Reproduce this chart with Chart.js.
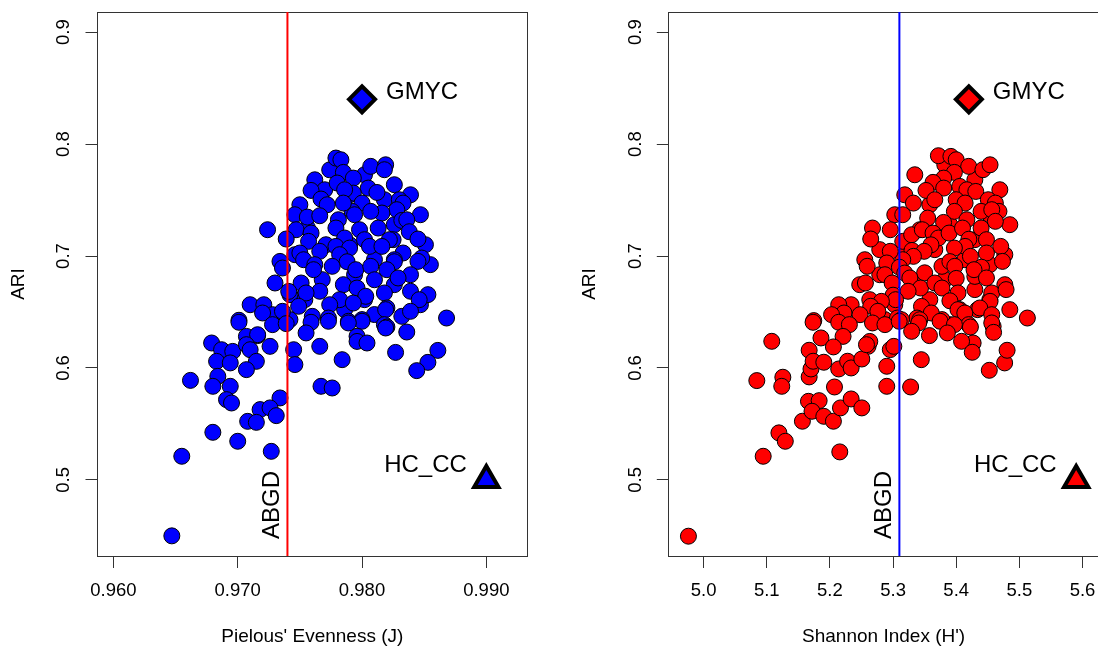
<!DOCTYPE html>
<html>
<head>
<meta charset="utf-8">
<script src="https://cdn.jsdelivr.net/npm/chart.js"></script>
<style>
  html, body { margin: 0; padding: 0; background: #fff; overflow: hidden; }
  #wrap { position: relative; width: 1098px; height: 648px; overflow: hidden; }
  #left { position: absolute; left: 0; top: 0; }
  #right { position: absolute; left: 549px; top: 0; }
</style>
</head>
<body>
<div id="wrap">
  <canvas id="left" width="549" height="648"></canvas>
  <canvas id="right" width="560" height="648"></canvas>
</div>
<script>
// Pielou's evenness (J) of each partition and its ARI
const evenness = [
  0.9762,0.9774,0.9802,0.9826,0.9839,0.9818,0.9790,0.9770,0.9750,0.9847,
  0.9781,0.9756,0.9826,0.9790,0.9851,0.9746,0.9810,0.9855,0.9794,0.9768,
  0.9826,0.9742,0.9802,0.9847,0.9754,0.9786,0.9810,0.9742,
  0.9779,0.9783,0.9807,0.9819,0.9818,0.9785,0.9793,0.9780,0.9759,0.9805,
  0.9812,0.9793,0.9786,0.9767,0.9772,0.9800,0.9830,0.9833,0.9828,0.9816,
  0.9792,0.9807,0.9785,0.9746,0.9756,0.9766,0.9794,0.9832,0.9836,0.9724,
  0.9779,0.9813,0.9798,0.9747,0.9759,0.9838,0.9786,0.9739,0.9845,0.9825,
  0.9822,0.9802,0.9757,0.9771,0.9806,0.9816,0.9779,0.9790,0.9766,0.9750,
  0.9782,0.9833,0.9848,0.9845,0.9826,0.9753,0.9734,0.9788,0.9826,0.9776,
  0.9795,0.9807,0.9820,0.9762,0.9736,0.9761,0.9839,0.9829,0.9810,0.9730,
  0.9751,0.9766,0.9741,0.9755,0.9785,0.9796,0.9803,0.9818,0.9839,0.9853,
  0.9846,0.9782,0.9793,0.9774,0.9820,0.9710,0.9721,0.9728,0.9720,0.9701,
  0.9736,0.9749,0.9760,0.9773,0.9789,0.9800,0.9819,0.9832,0.9839,0.9818,
  0.9868,0.9701,0.9728,0.9739,0.9759,0.9773,0.9800,0.9820,0.9716,0.9836,
  0.9819,0.9796,0.9789,0.9707,0.9716,0.9755,0.9679,0.9687,0.9696,0.9707,
  0.9710,0.9726,0.9745,0.9746,0.9683,0.9694,0.9715,0.9707,0.9662,0.9684,
  0.9680,0.9694,0.9691,0.9695,0.9734,0.9718,0.9726,0.9731,0.9708,0.9715,
  0.9680,0.9700,0.9727,0.9655,0.9647,0.9766,0.9784,0.9767,0.9776,0.9796,
  0.9804,0.9827,0.9861,0.9853,0.9844
];
const ariEven = [
  0.7681,0.7770,0.7726,0.7637,0.7547,0.7503,0.7547,0.7592,0.7458,0.7369,
  0.7324,0.7253,0.7280,0.7101,0.7101,0.7012,0.6967,0.6923,0.6833,0.6789,
  0.6744,0.6655,0.6610,0.6565,0.6610,0.6521,0.6477,0.6432,
  0.7875,0.7860,0.7801,0.7815,0.7771,0.7747,0.7696,0.7652,0.7586,0.7607,
  0.7568,0.7562,0.7592,0.7509,0.7458,0.7473,0.7503,0.7473,0.7414,0.7384,
  0.7399,0.7399,0.7473,0.7369,0.7348,0.7360,0.7369,0.7318,0.7324,0.7235,
  0.7250,0.7250,0.7235,0.7235,0.7205,0.7217,0.7161,0.7152,0.7152,0.7146,
  0.7146,0.7146,0.7131,0.7101,0.7086,0.7086,0.7086,0.7071,0.7042,0.7027,
  0.7012,0.7027,0.6982,0.6952,0.6967,0.6967,0.6952,0.6949,0.6949,0.6908,
  0.6878,0.6908,0.6878,0.6923,0.6893,0.6878,0.6833,0.6804,0.6788,0.6759,
  0.6759,0.6685,0.6684,0.6670,0.6744,0.6714,0.6640,0.6670,0.6685,0.6655,
  0.6610,0.6610,0.6580,0.6565,0.6536,0.6565,0.6565,0.6476,0.6491,0.6426,
  0.6506,0.6551,0.6461,0.6446,0.6417,0.6432,0.6521,0.6461,0.6506,0.6387,
  0.6446,0.6408,0.6387,0.6396,0.6408,0.6417,0.6417,0.6366,0.6289,0.6321,
  0.6357,0.6283,0.6402,0.6282,0.6297,0.6313,0.6223,0.6163,0.6148,0.6208,
  0.6163,0.6193,0.6163,0.6030,0.6059,0.6045,0.6059,0.5985,0.5889,0.5925,
  0.5836,0.5836,0.5717,0.5687,0.5732,0.5628,0.5643,0.5574,0.5523,0.5514,
  0.5425,0.5345,0.5255,0.5211,0.4500,0.6193,0.6074,0.5836,0.5821,0.6237,
  0.6223,0.6139,0.6157,0.6050,0.5976
];

// Shannon index (H') of each partition and its ARI
const shannon = [
  5.3344,5.3819,5.4295,5.4691,5.3185,5.3582,5.4057,5.4532,5.4849,5.3027,
  5.3423,5.3899,5.4295,5.4770,5.2789,5.3185,5.3661,5.4136,5.4532,5.2789,
  5.3344,5.3819,5.4295,5.4770,5.2631,5.3027,5.3582,5.4057,5.4532,5.4849,
  5.2868,5.3899,5.2472,5.2552,
  5.3718,5.3916,5.4000,5.4198,5.4423,5.4536,5.3971,5.3802,5.3633,5.3521,
  5.3802,5.4056,5.4169,5.4310,5.3661,5.4000,5.4141,5.4508,5.4620,5.4677,
  5.3322,5.3153,5.3548,5.3971,5.4394,5.4563,5.4620,5.4169,5.3800,5.4394,
  5.2674,5.2956,5.2646,5.3153,5.3294,5.3463,5.3633,5.3718,5.3887,5.4100,
  5.4200,5.4141,5.4479,5.4705,5.4733,5.4479,5.4225,5.3971,5.3600,5.3300,
  5.3774,5.3492,5.3322,5.3153,5.2956,5.2900,5.2590,5.3100,5.3900,5.3978,
  5.4400,5.2871,5.3185,5.3500,5.4295,5.2562,5.2985,5.3266,5.4000,5.3435,
  5.3661,5.3774,5.4028,5.4282,5.4479,5.4563,5.4536,5.4790,5.3000,5.3900,
  5.3450,5.4338,5.4028,5.4136,5.4374,5.3774,5.3605,5.3379,5.3238,5.3040,
  5.2815,5.2646,5.2336,5.2139,5.2223,5.2026,5.1744,5.4198,5.4563,5.4585,
  5.5127,5.2759,5.3069,5.2477,5.3423,5.3133,5.1733,5.2139,5.2308,5.2674,
  5.2871,5.3097,5.3407,5.3745,5.3971,5.4225,5.4563,5.2208,5.2604,5.4268,
  5.2631,4.9759,5.0943,5.0842,5.1079,5.1254,5.1237,5.1192,5.1293,5.1564,
  5.1671,5.1671,5.1700,5.1734,5.1903,5.1858,5.2055,5.1660,5.1829,5.1716,
  5.1903,5.2055,5.2072,5.2139,5.2280,5.2336,5.2505,5.2579,5.2167,5.2336,
  5.2505,5.2156,5.2900,5.2956,5.3012,5.2900,5.3278,5.3447,5.3294,5.3576,
  5.3860,5.4085,5.4254,5.4592,5.4524,5.4767,5.4806
];
const ariShannon = [
  0.7726,0.7815,0.7681,0.7592,0.7547,0.7458,0.7503,0.7369,0.7280,0.7369,
  0.7235,0.7280,0.7146,0.7012,0.7057,0.7012,0.7057,0.6967,0.6923,0.6833,
  0.6744,0.6789,0.6700,0.6744,0.6610,0.6565,0.6610,0.6521,0.6610,0.6521,
  0.6432,0.6387,0.6744,0.6967,
  0.7896,0.7890,0.7860,0.7801,0.7771,0.7815,0.7747,0.7696,0.7658,0.7586,
  0.7607,0.7622,0.7592,0.7577,0.7503,0.7503,0.7473,0.7503,0.7473,0.7399,
  0.7473,0.7369,0.7339,0.7399,0.7399,0.7414,0.7310,0.7324,0.7300,0.7250,
  0.7250,0.7235,0.7152,0.7131,0.7190,0.7235,0.7205,0.7161,0.7205,0.7250,
  0.7150,0.7086,0.7146,0.7086,0.6952,0.7027,0.6997,0.7071,0.7100,0.7050,
  0.6908,0.7042,0.6997,0.6967,0.7042,0.6938,0.6908,0.6900,0.6950,0.6908,
  0.6900,0.6833,0.6848,0.6850,0.6818,0.6759,0.6759,0.6804,0.6800,0.6714,
  0.6759,0.6714,0.6670,0.6878,0.6804,0.6670,0.6595,0.6700,0.6650,0.6600,
  0.6550,0.6521,0.6521,0.6491,0.6536,0.6432,0.6491,0.6446,0.6685,0.6610,
  0.6595,0.6551,0.6565,0.6565,0.6491,0.6476,0.6423,0.6387,0.6476,0.6371,
  0.6446,0.6506,0.6446,0.6476,0.6431,0.6431,0.6408,0.6408,0.6387,0.6402,
  0.6387,0.6417,0.6402,0.6417,0.6387,0.6366,0.6402,0.6282,0.6193,0.6223,
  0.6237,0.4497,0.5211,0.5887,0.6238,0.5917,0.5836,0.5420,0.5345,0.5524,
  0.6158,0.5920,0.5991,0.6060,0.6051,0.6268,0.6188,0.5702,0.5708,0.5613,
  0.5568,0.5524,0.5830,0.5991,0.6060,0.6000,0.6080,0.6208,0.5643,0.5723,
  0.5643,0.5250,0.6015,0.6164,0.6193,0.5836,0.5830,0.6074,0.6327,0.6289,
  0.6313,0.6238,0.6140,0.6318,0.5979,0.6045,0.6158
];

// other delimitation methods
const methods = ["GMYC", "HC_CC"];
const methodEven = [0.980, 0.990];
const methodShannon = [5.42, 5.59];
const methodAri = [0.84, 0.50];
const abgdEven = 0.974;
const abgdShannon = 5.31;

const evenTicks = [0.96, 0.97, 0.98, 0.99];
const shannonTicks = [5.0, 5.1, 5.2, 5.3, 5.4, 5.5, 5.6];
const ariTicks = [0.5, 0.6, 0.7, 0.8, 0.9];

const FONT = "'Liberation Sans', Arial, sans-serif";
const crisp = p => Math.round(p - 0.5) + 0.5;

const panelDecor = {
  id: 'panelDecor',
  afterDatasetsDraw(chart, args, o) {
    const { ctx, chartArea: a } = chart;
    const xs = chart.scales.x, ys = chart.scales.y;
    ctx.save();

    // box
    ctx.strokeStyle = '#333';
    ctx.lineWidth = 1;
    const l = crisp(a.left), t = crisp(a.top), r = crisp(a.right), b = crisp(a.bottom);
    ctx.strokeRect(l, t, r - l, b - t);

    // ABGD line
    const lx = xs.getPixelForValue(o.abgd);
    ctx.strokeStyle = o.lineColor;
    ctx.lineWidth = 2;
    ctx.beginPath();
    ctx.moveTo(lx, a.top);
    ctx.lineTo(lx, a.bottom);
    ctx.stroke();

    ctx.fillStyle = '#000';
    ctx.font = '24px ' + FONT;
    ctx.save();
    ctx.translate(lx - 15, a.bottom - 51);
    ctx.rotate(-Math.PI / 2);
    ctx.textAlign = 'center';
    ctx.textBaseline = 'middle';
    ctx.fillText('ABGD', 0, 0);
    ctx.restore();

    // method labels
    const pts = chart.getDatasetMeta(1).data;
    ctx.textBaseline = 'middle';
    ctx.textAlign = 'left';
    ctx.fillText(methods[0], pts[0].x + 24, pts[0].y - 7);
    ctx.textAlign = 'right';
    ctx.fillText(methods[1], pts[1].x - 19.5, pts[1].y - 14.5);

    // tick labels
    ctx.font = '18.5px ' + FONT;
    ctx.textAlign = 'center';
    ctx.textBaseline = 'middle';
    xs.ticks.forEach(tk => {
      ctx.fillText(tk.value.toFixed(o.xDigits), xs.getPixelForValue(tk.value), a.bottom + 34.7);
    });
    ys.ticks.forEach(tk => {
      ctx.save();
      ctx.translate(a.left - 33.2, ys.getPixelForValue(tk.value));
      ctx.rotate(-Math.PI / 2);
      ctx.fillText(tk.value.toFixed(1), 0, 0);
      ctx.restore();
    });

    // axis titles
    ctx.font = '19px ' + FONT;
    ctx.fillText(o.xTitle, (a.left + a.right) / 2, a.bottom + 80.7);
    ctx.save();
    ctx.translate(a.left - 79, (a.top + a.bottom) / 2);
    ctx.rotate(-Math.PI / 2);
    ctx.fillText('ARI', 0, 0);
    ctx.restore();

    ctx.restore();
  }
};

function axisOpts(ticks, extra) {
  return Object.assign({
    type: 'linear',
    afterBuildTicks: s => { s.ticks = ticks.map(v => ({ value: v })); },
    ticks: { display: false },
    grid: { drawOnChartArea: false, drawTicks: true, tickLength: 12, color: '#333', lineWidth: 1 },
    border: { display: false }
  }, extra);
}

function makePanel(id, xs, ys, p) {
  return new Chart(document.getElementById(id), {
    type: 'scatter',
    data: {
      datasets: [
        {
          data: xs.map((v, i) => ({ x: v, y: ys[i] })),
          backgroundColor: p.fill,
          borderColor: '#000',
          borderWidth: 1,
          pointRadius: 8
        },
        {
          data: p.methodX.map((v, i) => ({ x: v, y: methodAri[i] })),
          pointStyle: ['rectRot', 'triangle'],
          pointRadius: [13, 14],
          backgroundColor: p.fill,
          borderColor: '#000',
          borderWidth: 4
        }
      ]
    },
    options: {
      responsive: false,
      animation: false,
      events: [],
      layout: { autoPadding: false, padding: { top: 12, right: p.padRight, left: 0, bottom: 0 } },
      plugins: {
        legend: { display: false },
        tooltip: { enabled: false },
        panelDecor: { abgd: p.abgd, lineColor: p.lineColor, xTitle: p.xTitle, xDigits: p.xDigits }
      },
      scales: {
        x: axisOpts(p.xTicks, { position: 'bottom', min: p.xmin, max: p.xmax,
          afterFit: s => { s.height = 92; s.paddingLeft = 0; s.paddingRight = 0; } }),
        y: axisOpts(ariTicks, { position: 'left', min: 0.432, max: 0.918,
          afterFit: s => { s.width = p.yWidth; s.paddingTop = 0; s.paddingBottom = 0; } })
      }
    },
    plugins: [panelDecor]
  });
}

makePanel('left', evenness, ariEven, {
  fill: '#0000ff', lineColor: '#ff0000', abgd: abgdEven,
  methodX: methodEven, xTicks: evenTicks, xDigits: 3,
  xmin: 0.95872, xmax: 0.99328, yWidth: 97.5, padRight: 21.9,
  xTitle: "Pielous' Evenness (J)"
});

makePanel('right', shannon, ariShannon, {
  fill: '#ff0000', lineColor: '#0000ff', abgd: abgdShannon,
  methodX: methodShannon, xTicks: shannonTicks, xDigits: 1,
  xmin: 4.9448, xmax: 5.6252, yWidth: 119.8, padRight: 10.6,
  xTitle: "Shannon Index (H')"
});
</script>
</body>
</html>
